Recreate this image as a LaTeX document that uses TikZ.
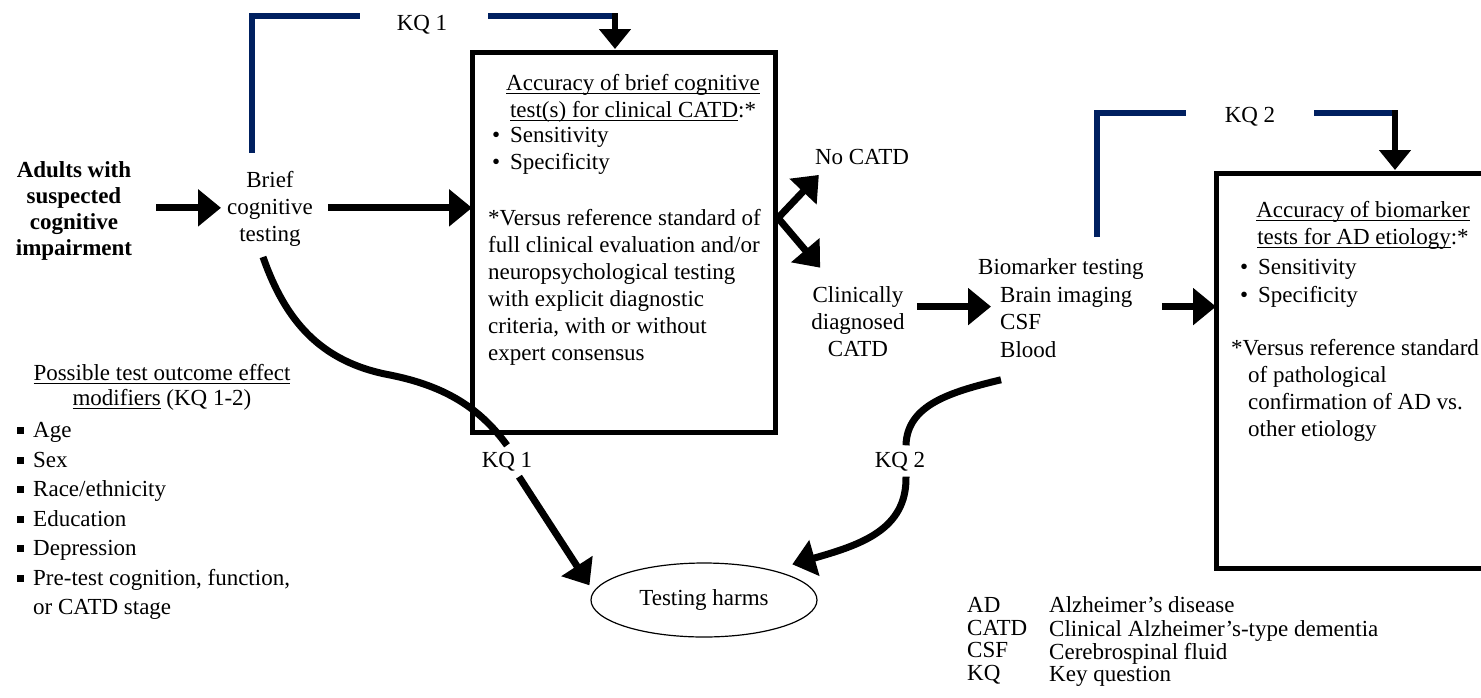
\documentclass[tikz,border=0pt]{standalone}
\usepackage{fontspec}
\setmainfont{Liberation Serif}
\usetikzlibrary{arrows.meta,shapes.geometric}
\definecolor{kqblue}{HTML}{002060}
% text helpers
\newcommand\fsz{\fontsize{23}{27}\selectfont}
\newcommand\undl[1]{\setbox0=\hbox{#1}\rlap{\rule[-3pt]{\wd0}{1.3pt}}\box0\relax}
\newcommand\dotb{\makebox[18pt][l]{•}}
\newcommand\sqb{\makebox[16pt][l]{\rule[3.5pt]{7pt}{7pt}}}

\begin{document}
\begin{tikzpicture}[x=1pt,y=-1pt,
  txt/.style={inner sep=0pt, font=\fsz},
  lbl/.style={inner sep=1pt, font=\fsz},
  boxframe/.style={draw, line width=5pt, inner sep=0pt, outer sep=0pt, anchor=north west},
  flowarrow/.style={line width=7pt, -{Triangle[length=23pt,width=36pt]}},
  kqcurve/.style={line width=7pt},
  kq/.style={line width=6pt, draw=kqblue},
  droparrow/.style={line width=6pt, -{Triangle[length=20pt,width=31pt]}, shorten >=3pt},
]
\useasboundingbox (0,0) rectangle (1481,697);

% population and first test
\node[txt, font=\bfseries\fontsize{23}{26}\selectfont, align=center, anchor=north] (adults) at (74,159.4)
  {\strut Adults with\\suspected\\cognitive\\impairment};
\node[txt, align=center, anchor=north] (brief) at (270,168.7) {\strut Brief\\cognitive\\testing};

% accuracy box for brief cognitive tests
\node[boxframe, minimum width=303pt, minimum height=380pt] (box1) at (472,52) {};
\node[txt, align=center, anchor=north] (acc1) at (633,71.7)
  {\strut\undl{Accuracy of brief cognitive}\\\undl{test(s) for clinical CATD}:*};
\node[txt, align=left, anchor=north west] (meas1) at (492,123.7) {\strut\dotb Sensitivity\\\dotb Specificity};
\node[txt, align=left, anchor=north west] (ref1) at (488,206.7)
  {\strut *Versus reference standard of\\full clinical evaluation and/or\\neuropsychological testing\\with explicit diagnostic\\criteria, with or without\\expert consensus};

% outcomes of the clinical diagnosis
\node[txt] (nocatd) at (862,157) {No CATD};
\node[txt, align=center, anchor=north] (clin) at (858,283.7) {\strut Clinically\\diagnosed\\CATD};
\node[txt, align=left, anchor=north west, font=\fontsize{23}{27.5}\selectfont] (bio) at (978,255.4)
  {\strut Biomarker testing\\\hspace*{22pt}Brain imaging\\\hspace*{22pt}CSF\\\hspace*{22pt}Blood};

% accuracy box for biomarker tests
\node[boxframe, minimum width=300pt, minimum height=395pt] (box2) at (1216,173) {};
\node[txt, align=center, anchor=north] (acc2) at (1363,198.7)
  {\strut\undl{Accuracy of biomarker}\\\undl{tests for AD etiology}:*};
\node[txt, align=left, anchor=north west, font=\fontsize{23}{28}\selectfont] (meas2) at (1240,255)
  {\strut\dotb Sensitivity\\\dotb Specificity};
\node[txt, align=left, anchor=north west] (ref2) at (1231,336.7)
  {\strut *Versus reference standard\\\hspace*{17pt}of pathological\\\hspace*{17pt}confirmation of AD vs.\\\hspace*{17pt}other etiology};

% harms
\node[draw, ellipse, line width=1.2pt, minimum width=226pt, minimum height=74pt, font=\fsz] (harms) at (704,600) {Testing harms};

% key question labels
\node[lbl] (kq1top) at (422,25) {KQ 1};
\node[lbl] (kq2top) at (1250,117) {KQ 2};
\node[lbl] (kq1low) at (507,462) {KQ 1};
\node[lbl] (kq2low) at (900,462) {KQ 2};

% effect modifiers
\node[txt, align=center, anchor=north, font=\fontsize{23}{25}\selectfont] (modh) at (162,363.1)
  {\strut\undl{Possible test outcome effect}\\\undl{modifiers} (KQ 1-2)};
\node[txt, align=left, anchor=north west, font=\fontsize{23}{29.5}\selectfont] (mods) at (17,417)
  {\strut\sqb Age\\\sqb Sex\\\sqb Race/ethnicity\\\sqb Education\\\sqb Depression\\\sqb Pre-test cognition, function,\\\hspace*{16pt}or CATD stage};

% abbreviations
\node[txt, align=left, anchor=north west, font=\fontsize{23}{22.5}\selectfont] (abbr) at (967,596.8)
  {\strut AD\\CATD\\CSF\\KQ};
\node[txt, align=left, anchor=north west, font=\fontsize{23}{22.5}\selectfont] (defs) at (1049,596.8)
  {\strut Alzheimer’s disease\\Clinical Alzheimer’s-type dementia\\Cerebrospinal fluid\\Key question};

% main flow
\draw[flowarrow] ([xshift=24pt]adults.east |- brief.west) -- ([xshift=-6pt]brief.west);
\draw[flowarrow] ([xshift=15pt]brief.east) -- (box1.west |- brief.east);
\coordinate (fork) at ([xshift=3pt,yshift=24pt]box1.east);
\draw[line width=7pt, {Triangle[length=23pt,width=36pt]}-{Triangle[length=23pt,width=36pt]}]
  ([xshift=4pt,yshift=-10pt]nocatd.south west) -- (fork) -- ([xshift=9pt,yshift=16pt]clin.north west);
\draw[flowarrow] ([xshift=12pt]clin.east |- bio.west) -- ([xshift=13pt]bio.west);
\draw[flowarrow] ([xshift=18pt]bio.east) -- (bio.east -| box2.west);

% KQ 1 bracket
\coordinate (k1turn) at (615,16);
\draw[kq] ([xshift=-18pt,yshift=16pt]brief.north) |- ([xshift=-36pt,yshift=9pt]kq1top.west);
\draw[kq] ([xshift=40pt,yshift=9pt]kq1top.east) -- (k1turn);
\draw[droparrow] ([yshift=3pt]k1turn) -- (k1turn |- box1.north);

% KQ 2 bracket
\coordinate (k2foot) at (1097,237);
\coordinate (k2turn) at (1395,113);
\draw[kq] (k2foot) |- ([xshift=-38pt,yshift=4pt]kq2top.west);
\draw[kq] ([xshift=38pt,yshift=4pt]kq2top.east) -- (k2turn);
\draw[droparrow] ([yshift=3pt]k2turn) -- (k2turn |- box2.north);

% paths to testing harms
\draw[kqcurve] ([xshift=-7pt,yshift=-10pt]brief.south) .. controls (285,320) and (320,362) .. (390,375)
  .. controls (445,386) and (480,408) .. ([yshift=6pt]kq1low.north);
\draw[flowarrow] ([xshift=12pt,yshift=-4pt]kq1low.south) -- ([xshift=-10pt]harms.172);
\draw[kqcurve] ([xshift=23pt,yshift=-22pt]bio.south west) .. controls (950,392) and (907,405) .. ([xshift=6pt,yshift=6pt]kq2low.north);
\draw[flowarrow] ([xshift=6pt,yshift=-4pt]kq2low.south) .. controls (907,530) and (860,545) .. ([yshift=12pt]harms.15);
\end{tikzpicture}
\end{document}
